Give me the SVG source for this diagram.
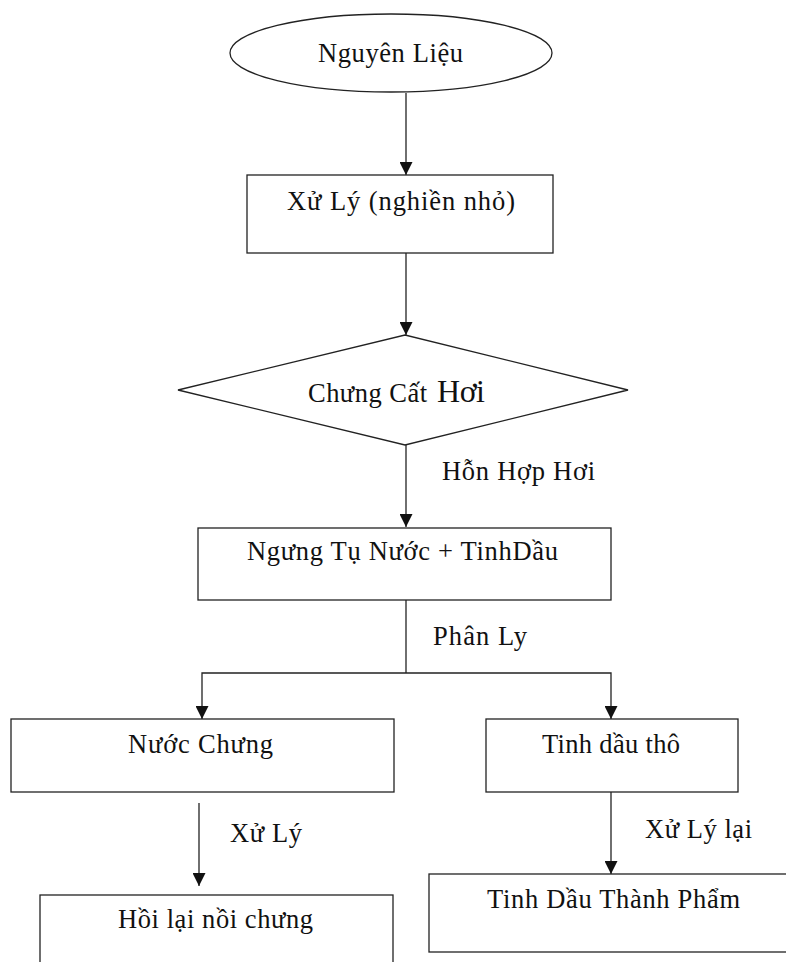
<svg xmlns="http://www.w3.org/2000/svg" width="786" height="962" viewBox="0 0 786 962">
<style>
.shape{fill:#fff;stroke:#222;stroke-width:1.3}
.t{font-family:"Liberation Serif","Times New Roman",serif;font-size:26.5px;fill:#111}
.conn{fill:none;stroke:#222;stroke-width:1.3}
</style>
<defs>
<marker id="arr" markerUnits="userSpaceOnUse" markerWidth="14" markerHeight="13" refX="13" refY="6.5" orient="auto">
<path d="M0,0 L13,6.5 L0,13 z" fill="#111"/>
</marker>
</defs>
<rect width="786" height="962" fill="#fff"/>
<g id="connectors">
<line class="conn" x1="406" y1="93" x2="406" y2="175" marker-end="url(#arr)"/>
<line class="conn" x1="406" y1="253" x2="406" y2="335" marker-end="url(#arr)"/>
<line class="conn" x1="406" y1="445" x2="406" y2="527" marker-end="url(#arr)"/>
<polyline class="conn" points="406,600 406,673"/>
<polyline class="conn" points="406,673 202,673 202,719" marker-end="url(#arr)"/>
<polyline class="conn" points="406,673 611,673 611,719" marker-end="url(#arr)"/>
<line class="conn" x1="199" y1="803" x2="199" y2="886" marker-end="url(#arr)"/>
<line class="conn" x1="611" y1="792" x2="611" y2="874" marker-end="url(#arr)"/>
<text class="t" x="442" y="480" textLength="153" lengthAdjust="spacing">Hỗn Hợp Hơi</text>
<text class="t" x="433" y="645" textLength="94" lengthAdjust="spacing">Phân Ly</text>
<text class="t" x="230" y="842" textLength="72" lengthAdjust="spacing">Xử Lý</text>
<text class="t" x="645" y="838" textLength="107" lengthAdjust="spacing">Xử Lý lại</text>
</g>
<g id="nguyen-lieu">
<ellipse class="shape" cx="391" cy="53" rx="161" ry="39"/>
<text class="t" x="318" y="62" textLength="145" lengthAdjust="spacing">Nguyên Liệu</text>
</g>
<g id="xu-ly">
<rect class="shape" x="247" y="175" width="306" height="78"/>
<text class="t" x="287" y="210" textLength="228" lengthAdjust="spacing">Xử Lý (nghiền nhỏ)</text>
</g>
<g id="chung-cat">
<polygon class="shape" points="178,390 405,335 628,390 405,445"/>
<text class="t" y="402"><tspan x="308" font-size="26.5" textLength="119" lengthAdjust="spacing">Chưng Cất</tspan> <tspan x="437" font-size="32" textLength="48" lengthAdjust="spacing">Hơi</tspan></text>
</g>
<g id="ngung-tu">
<rect class="shape" x="198" y="528" width="413" height="72"/>
<text class="t" x="247" y="560" textLength="311" lengthAdjust="spacing">Ngưng Tụ Nước + TinhDầu</text>
</g>
<g id="nuoc-chung">
<rect class="shape" x="11" y="719" width="383" height="73"/>
<text class="t" x="128" y="753" textLength="145" lengthAdjust="spacing">Nước Chưng</text>
</g>
<g id="tinh-dau-tho">
<rect class="shape" x="486" y="719" width="252" height="73"/>
<text class="t" x="542" y="753" textLength="138" lengthAdjust="spacing">Tinh dầu thô</text>
</g>
<g id="hoi-lai">
<rect class="shape" x="40" y="895" width="353" height="80"/>
<text class="t" x="118" y="928" textLength="195" lengthAdjust="spacing">Hồi lại nồi chưng</text>
</g>
<g id="thanh-pham">
<rect class="shape" x="429" y="874" width="370" height="78"/>
<text class="t" x="487" y="908" textLength="253" lengthAdjust="spacing">Tinh Dầu  Thành Phẩm</text>
</g>
</svg>
